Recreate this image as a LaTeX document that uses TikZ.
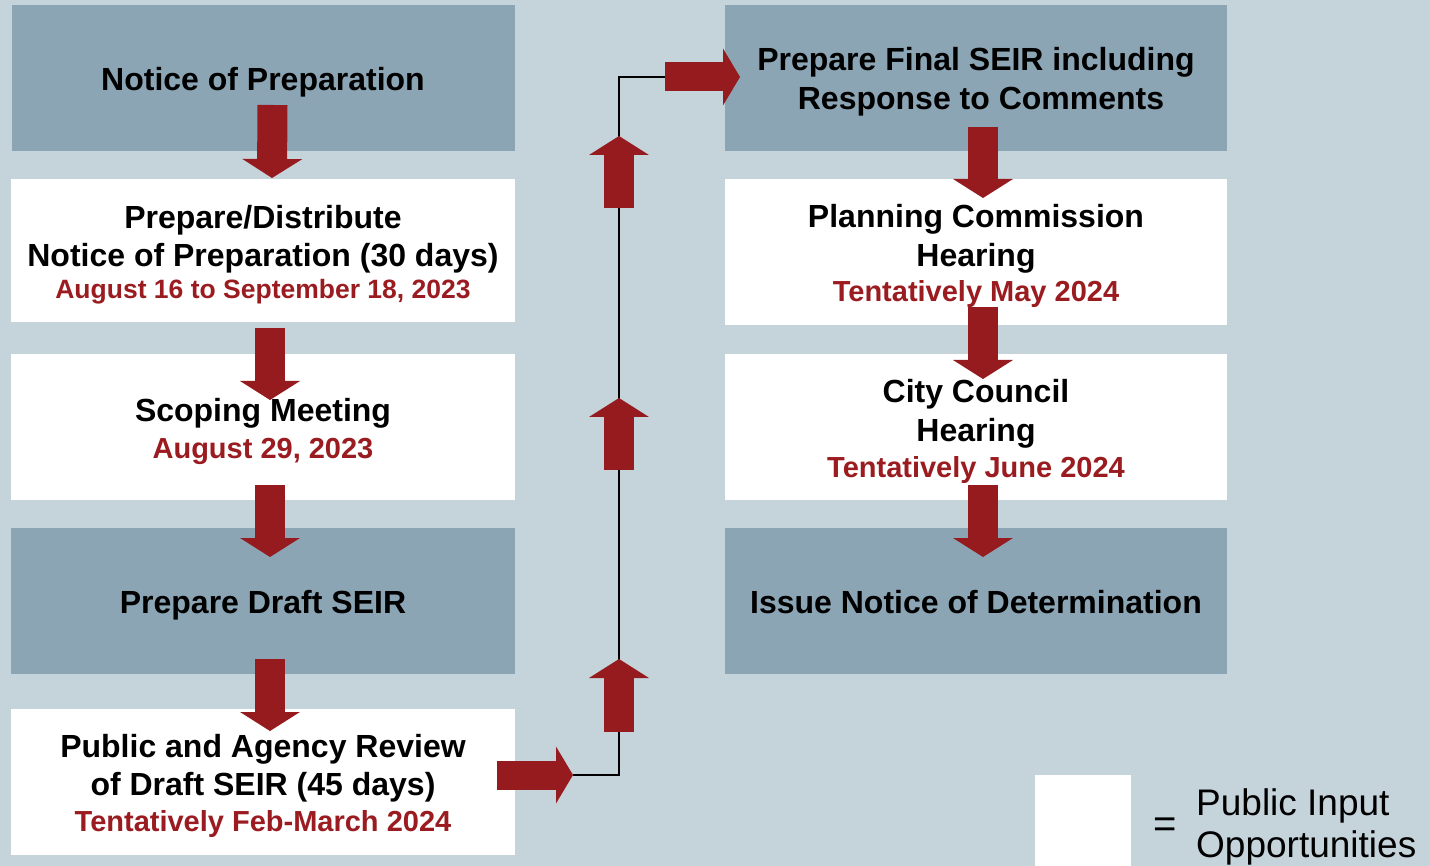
\documentclass[tikz,border=0pt]{standalone}
\usepackage{fontspec}
\setmainfont{Liberation Sans}
\usetikzlibrary{arrows.meta,calc}
\definecolor{bgblue}{HTML}{C5D3DB}
\definecolor{darkbox}{HTML}{8BA5B5}
\definecolor{arrowred}{HTML}{951B1F}
\definecolor{datered}{HTML}{9B1C20}
\tikzset{
  stepbox/.style={draw=none, outer sep=0pt, inner sep=0pt},
  darkstep/.style={stepbox, fill=darkbox},
  whitestep/.style={stepbox, fill=white},
  bigarrow/.style={draw=arrowred, line width=30pt, -{Triangle[length=19pt,width=60pt,line width=0pt]}},
  hbigarrow/.style={draw=arrowred, line width=29pt, -{Triangle[length=17pt,width=57pt,line width=0pt]}},
  linkline/.style={draw=black, line width=2pt},
  titleline/.style={font=\bfseries\fontsize{32}{38}\selectfont, inner sep=0pt, anchor=base},
  dateline/.style={font=\bfseries\fontsize{29}{35}\selectfont, text=datered, inner sep=0pt, anchor=base},
  smalldate/.style={font=\bfseries\fontsize{26.5}{31}\selectfont, text=datered, inner sep=0pt, anchor=base},
  legendtext/.style={font=\fontsize{37}{43}\selectfont, inner sep=0pt},
}
\begin{document}
\begin{tikzpicture}[x=1pt,y=-1pt]
\useasboundingbox (0,0) rectangle (1430,866);
\fill[bgblue] (0,0) rectangle (1430,866);

% left column boxes
\node[darkstep, minimum width=503, minimum height=146] (n1) at (263.5,78) {};
\node[whitestep, minimum width=504, minimum height=143] (n2) at (263,250.5) {};
\node[whitestep, minimum width=504, minimum height=146] (n3) at (263,427) {};
\node[darkstep, minimum width=504, minimum height=146] (n4) at (263,601) {};
\node[whitestep, minimum width=504, minimum height=146] (n5) at (263,782) {};
% right column boxes
\node[darkstep, minimum width=502, minimum height=146] (m1) at (976,78) {};
\node[whitestep, minimum width=502, minimum height=146] (m2) at (976,252) {};
\node[whitestep, minimum width=502, minimum height=146] (m3) at (976,427) {};
\node[darkstep, minimum width=502, minimum height=146] (m4) at (976,601) {};
% legend box
\node[whitestep, minimum width=96, minimum height=91] (lg) at (1083,820.5) {};

% junction coordinates of the connector
\coordinate (j1) at (573,775);
\coordinate (j2) at (619,775);
\coordinate (j3) at (619,77);
\coordinate (j4) at (665,77);

% connector line
\draw[linkline] (j1) -- (j2) -- (j3) -- (j4);

% down arrows, left column
\draw[bigarrow] ($(n1.south)+(9,-46)$) -- ($(n2.north)+(9,-1)$);
\draw[bigarrow] ($(n2.south)+(7,6)$) -- ($(n3.north)+(7,46)$);
\draw[bigarrow] ($(n3.south)+(7,-15)$) -- ($(n4.north)+(7,29)$);
\draw[bigarrow] ($(n4.south)+(7,-15)$) -- ($(n5.north)+(7,22)$);
% down arrows, right column
\draw[bigarrow] ($(m1.south)+(7,-24)$) -- ($(m2.north)+(7,19)$);
\draw[bigarrow] ($(m2.south)+(7,-18)$) -- ($(m3.north)+(7,25)$);
\draw[bigarrow] ($(m3.south)+(7,-15)$) -- ($(m4.north)+(7,29)$);
% horizontal arrows
\draw[hbigarrow] ($(n5.east)+(-18,-7)$) -- (j1);
\draw[hbigarrow] (j4) -- ($(m1.west)+(15,-1)$);
% up arrows on the connector
\draw[bigarrow] ($(j2)+(0,-43)$) -- ($(j2)+(0,-116)$);
\draw[bigarrow] ($(j2)+(0,-305)$) -- ($(j2)+(0,-377)$);
\draw[bigarrow] ($(j3)+(0,131)$) -- ($(j3)+(0,59)$);

% texts, left column
\node[titleline] (t1a) at (263,91) {Notice of Preparation};
\node[titleline] (t2a) at (263,229) {Prepare/Distribute};
\node[titleline] (t2b) at (263,267) {Notice of Preparation (30 days)};
\node[smalldate] (t2c) at (263,299) {August 16 to September 18, 2023};
\node[titleline] (t3a) at (263,422) {Scoping Meeting};
\node[dateline] (t3b) at (263,458) {August 29, 2023};
\node[titleline] (t4a) at (263,613) {Prepare Draft SEIR};
\node[titleline] (t5a) at (263,757) {Public and Agency Review};
\node[titleline] (t5b) at (263,795) {of Draft SEIR (45 days)};
\node[dateline] (t5c) at (263,831) {Tentatively Feb-March 2024};
% texts, right column
\node[titleline] (s1a) at (976,71) {Prepare Final SEIR including};
\node[titleline] (s1b) at (981,110) {Response to Comments};
\node[titleline] (s2a) at (976,228) {Planning Commission};
\node[titleline] (s2b) at (976,267) {Hearing};
\node[dateline] (s2c) at (976,302) {Tentatively May 2024};
\node[titleline] (s3a) at (976,403) {City Council};
\node[titleline] (s3b) at (976,442) {Hearing};
\node[dateline] (s3c) at (976,477) {Tentatively June 2024};
\node[titleline] (s4a) at (976,613) {Issue Notice of Determination};

% legend
\node[legendtext, anchor=center, font=\fontsize{40}{46}\selectfont] (eq) at (1165,828) {=};
\node[legendtext, anchor=base west] (lg1) at (1196,815) {Public Input};
\node[legendtext, anchor=base west] (lg2) at (1196,857) {Opportunities};
\end{tikzpicture}
\end{document}
